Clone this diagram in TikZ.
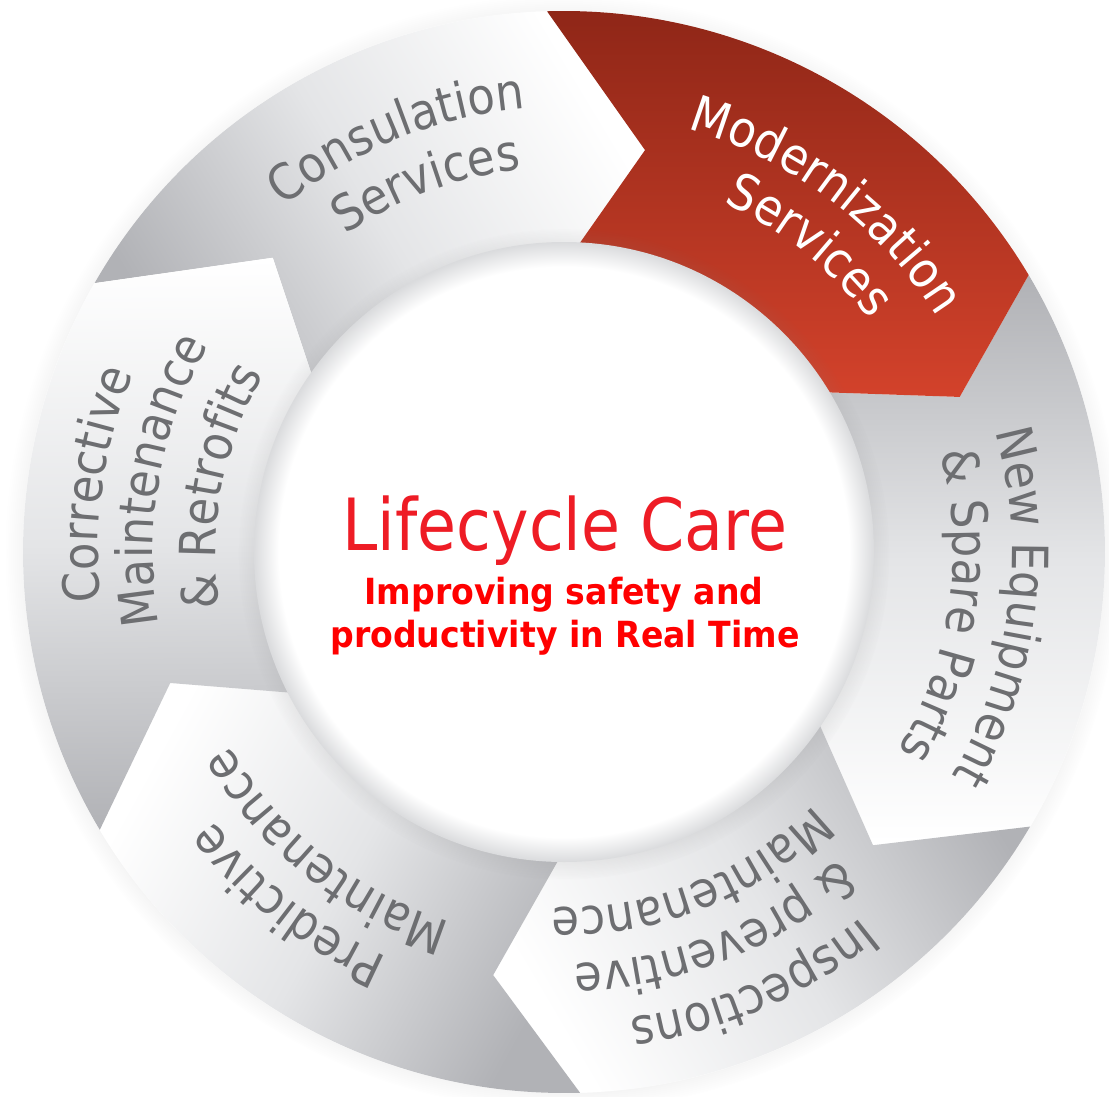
\documentclass[tikz,border=0pt]{standalone}
\usepackage{fontspec}
\usetikzlibrary{calc, decorations.text, shadows, shadings}

\newfontfamily\ringfont{DejaVu Sans}[FakeStretch=0.9]
\newfontfamily\carefont{DejaVu Sans}[FakeStretch=0.88]
\newfontfamily\subfont{DejaVu Sans}[FakeStretch=0.92]

\definecolor{segdark}{HTML}{B1B2B6}
\definecolor{segmid}{HTML}{E4E5E7}
\definecolor{segtxt}{HTML}{6D6E71}
\definecolor{modtop}{HTML}{8E2617}
\definecolor{modbot}{HTML}{D3422B}
\definecolor{carered}{HTML}{EE1C25}
\definecolor{subred}{HTML}{FF0000}
\definecolor{rimgrey}{HTML}{DADBDD}

\pgfdeclareradialshading{rimshade}{\pgfpoint{0bp}{0bp}}{color(0bp)=(white); color(23bp)=(white); color(25bp)=(rimgrey); color(50bp)=(rimgrey)}

\newcommand\segstyle{\ringfont\fontsize{50}{58}\selectfont\color{segtxt}}
\newcommand\modstyle{\ringfont\fontsize{50}{58}\selectfont\color{white}}

\begin{document}
\begin{tikzpicture}[
        x=1pt, y=1pt,
        greyseg/.style={top color=white, bottom color=segdark, middle color=segmid, shading angle=#1},
        ringtext/.style={decorate, decoration={text along path, text align=center, text={#1}}},
        subline/.style={anchor=base, text=subred, font=\subfont\bfseries\fontsize{36}{43}\selectfont}
    ]
    \useasboundingbox (-564,-544) rectangle (545,552);
    \fill[white, circular drop shadow={shadow xshift=-1pt, shadow yshift=-1pt, shadow scale=1.03, opacity=0.35}] (0,0) circle[radius=541];
    \foreach \n/\o/\ta/\tr/\na/\nr in {0/91.8/78.6/410/87/310, 1/150.2/134.7/414/144.4/312, 2/30.8/21.4/425/29.5/323,
            3/-30.5/-43.5/426/-34.9/316, 4/-88.3/-99.5/429/-92/318, 5/-149.1/-161.6/415/-153.5/314} {
        \coordinate (o\n) at (\o:541);
        \coordinate (t\n) at (\ta:\tr);
        \coordinate (n\n) at ($(\ta:\tr)!1.25!(\na:\nr)$);
    }
    \foreach \p/\q/\oa/\ob in {1/0/150.2/91.8, 2/3/30.8/-30.5, 3/4/-30.5/-88.3, 4/5/-88.3/-149.1, 5/1/-149.1/-209.8} {
        \pgfmathsetmacro{\s}{(\oa+\ob)/2-180}
        \shade[greyseg=\s] (o\p) arc[start angle=\oa, end angle=\ob, radius=541]
            -- (t\q) -- (n\q) -- (n\p) -- (t\p) -- cycle;
    }
    \shade[top color=modtop, bottom color=modbot] (o0) arc[start angle=91.8, end angle=30.8, radius=541]
        -- (t2) -- (n2) -- (n0) -- (t0) -- cycle;
    \shade[shading=rimshade, circular drop shadow={shadow xshift=0pt, shadow yshift=-2pt, shadow scale=1.05, opacity=0.3}] (0,0) circle[radius=310];

    \path[ringtext={|\segstyle|Consulation}] (157:445) arc[start angle=157, end angle=67, radius=445];
    \path[ringtext={|\segstyle|Services}] (155.5:385) arc[start angle=155.5, end angle=65.5, radius=385];
    \path[ringtext={|\modstyle|Modernization}] (98:441) arc[start angle=98, end angle=8, radius=441];
    \path[ringtext={|\modstyle|Services}] (96.3:384) arc[start angle=96.3, end angle=6.3, radius=384];
    \path[ringtext={|\segstyle|New Equipment}] (37.8:448) arc[start angle=37.8, end angle=-52.2, radius=448];
    \path[ringtext={|\segstyle|{\&} Spare Parts}] (37:389) arc[start angle=37, end angle=-53, radius=389];
    \path[ringtext={|\segstyle|Inspections}] (-21.4:471) arc[start angle=-21.4, end angle=-111.4, radius=471];
    \path[ringtext={|\segstyle|{\&} preventive}] (-23.3:412) arc[start angle=-23.3, end angle=-113.3, radius=412];
    \path[ringtext={|\segstyle|Maintenance}] (-23.6:356) arc[start angle=-23.6, end angle=-113.6, radius=356];
    \path[ringtext={|\segstyle|Predictive}] (-83:442) arc[start angle=-83, end angle=-173, radius=442];
    \path[ringtext={|\segstyle|Maintenance}] (-83.4:387) arc[start angle=-83.4, end angle=-173.4, radius=387];
    \path[ringtext={|\segstyle|Corrective}] (216.8:466) arc[start angle=216.8, end angle=126.8, radius=466];
    \path[ringtext={|\segstyle|Maintenance}] (215:411) arc[start angle=215, end angle=125, radius=411];
    \path[ringtext={|\segstyle|{\&} Retrofits}] (214.3:348) arc[start angle=214.3, end angle=124.3, radius=348];

    \node[anchor=base, text=carered, font=\carefont\fontsize{72}{80}\selectfont] (care) at (1,2) {Lifecycle Care};
    \node[subline] (aim) at (0,-52) {Improving safety and};
    \node[subline] (aimtwo) at (1,-95) {productivity in Real Time};
\end{tikzpicture}
\end{document}
